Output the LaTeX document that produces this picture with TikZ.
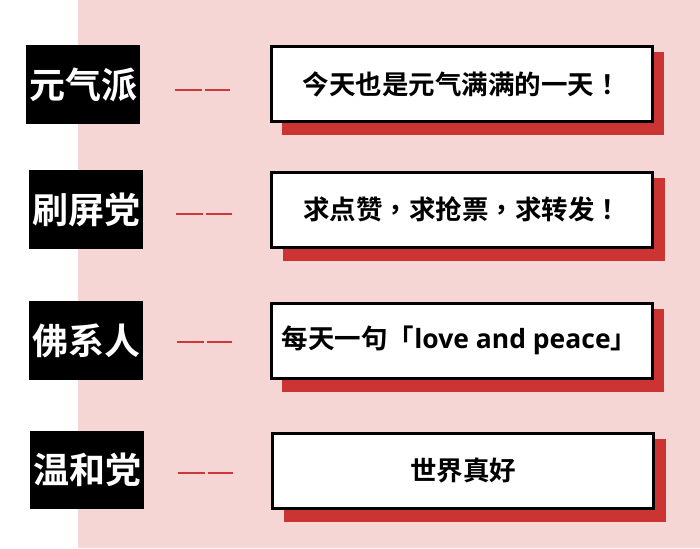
\documentclass[tikz,border=0pt]{standalone}
\usepackage{fontspec}
\newfontfamily\cjk{Noto Sans CJK SC}[BoldFont={Noto Sans CJK SC Bold}]
\newfontfamily\cjkp{Noto Sans CJK TC}[BoldFont={Noto Sans CJK TC Bold}]
\newfontfamily\latinb{Open Sans}
\newcommand{\pc}[1]{{\cjkp\bfseries #1}}
\definecolor{pinkbg}{HTML}{F6D5D5}
\definecolor{shadowred}{HTML}{CC3333}
\definecolor{dashred}{HTML}{CC3838}
\tikzset{
  labelbox/.style={fill=black, text=white, minimum width=114pt, minimum height=79pt,
    inner sep=0pt, font=\cjk\bfseries\fontsize{36}{40}\selectfont},
  textbox/.style={draw=black, line width=3pt, fill=white, minimum width=381pt,
    minimum height=75pt, inner sep=0pt, font=\cjk\bfseries\fontsize{26.5}{30}\selectfont},
  shadowbox/.style={fill=shadowred, minimum width=382pt, minimum height=83pt, inner sep=0pt},
  dashline/.style={draw=dashred, line width=2.6pt}
}
\begin{document}
\begin{tikzpicture}[x=1pt,y=-1pt]
\useasboundingbox (0,0) rectangle (700,548);
\fill[white] (0,0) rectangle (78,548);
\fill[pinkbg] (78,0) rectangle (700,548);
% row 1
\node[shadowbox] (s1) at (473,94) {};
\node[textbox] (t1) at (461.5,84) {今天也是元气满满的一天\pc{！}};
\node[labelbox] (l1) at (83,84.5) {元气派};
\coordinate (d1a) at (175,90); \coordinate (d1b) at (202,90);
\coordinate (d1c) at (205,90); \coordinate (d1d) at (230,90);
\draw[dashline] (d1a) -- (d1b) (d1c) -- (d1d);
% row 2
\node[shadowbox] (s2) at (473.5,219.5) {};
\node[textbox] (t2) at (462,209.5) {求点赞\pc{，}求抢票\pc{，}求转发\pc{！}};
\node[labelbox] (l2) at (86,209.5) {刷屏党};
\coordinate (d2a) at (176,214); \coordinate (d2b) at (203,214);
\coordinate (d2c) at (206,214); \coordinate (d2d) at (232,214);
\draw[dashline] (d2a) -- (d2b) (d2c) -- (d2d);
% row 3
\node[shadowbox] (s3) at (473,350.5) {};
\node[textbox] (t3) at (461.5,340.5) {\hspace*{-4pt}每天一句「{\latinb\bfseries love and peace}」};
\node[labelbox] (l3) at (86,340.5) {佛系人};
\coordinate (d3a) at (177,342); \coordinate (d3b) at (204,342);
\coordinate (d3c) at (207,342); \coordinate (d3d) at (232,342);
\draw[dashline] (d3a) -- (d3b) (d3c) -- (d3d);
% row 4
\node[shadowbox] (s4) at (474.5,480.5) {};
\node[textbox] (t4) at (463,470.5) {世界真好};
\node[labelbox, minimum height=78pt] (l4) at (87,470) {温和党};
\coordinate (d4a) at (178,473); \coordinate (d4b) at (205,473);
\coordinate (d4c) at (208,473); \coordinate (d4d) at (233,473);
\draw[dashline] (d4a) -- (d4b) (d4c) -- (d4d);
\end{tikzpicture}
\end{document}
